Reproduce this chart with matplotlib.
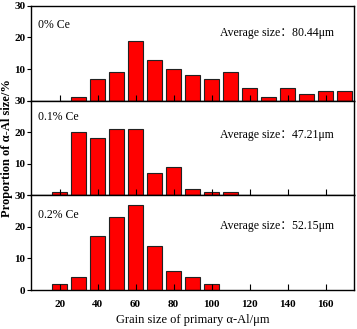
import numpy as np
import matplotlib
matplotlib.use("Agg")
from matplotlib import pyplot as plt

plt.rcParams['font.family'] = ['Liberation Serif', 'Noto Sans CJK SC']

sizes = [20, 30, 40, 50, 60, 70, 80, 90, 100, 110, 120, 130, 140, 150, 160, 170]
ce0 = [0, 1, 7, 9, 19, 13, 10, 8, 7, 9, 4, 1, 4, 2, 3, 3]
ce01 = [1, 20, 18, 21, 21, 7, 9, 2, 1, 1, 0, 0, 0, 0, 0, 0]
ce02 = [2, 4, 17, 23, 27, 14, 6, 4, 2, 0, 0, 0, 0, 0, 0, 0]
labels = ["0% Ce", "0.1% Ce", "0.2% Ce"]
averages = ["Average size\uff1a80.44\u03bcm", "Average size\uff1a47.21\u03bcm",
            "Average size\uff1a52.15\u03bcm"]
xticks = [20, 40, 60, 80, 100, 120, 140, 160]
yticks = [0, 10, 20, 30]

fig, axes = plt.subplots(3, 1, figsize=(3.57, 3.29), dpi=100, sharex=True)
fig.subplots_adjust(left=0.087, right=0.992, top=0.982, bottom=0.1185, hspace=0)

series = [ce0, ce01, ce02]
label_y = [0.80, 0.83, 0.79]
avg_y = [0.716, 0.64, 0.68]
for i, ax in enumerate(axes):
    vals = np.array(series[i])
    mask = vals > 0
    ax.bar(np.array(sizes)[mask], vals[mask], width=8, color='#ff0000',
           edgecolor='#222222', linewidth=0.8, zorder=1)
    ax.set_xlim(5, 175)
    ax.set_ylim(0, 30)
    ax.set_yticks(yticks)
    if i < 2:
        ax.set_yticklabels(["", "10", "20", "30"])
    ax.set_xticks(xticks)
    ax.tick_params(axis='x', direction='in', length=4, width=0.8, labelsize=8, pad=7)
    ax.tick_params(axis='y', direction='out', length=3, width=0.8, labelsize=8, pad=1)
    for lab in ax.get_xticklabels() + ax.get_yticklabels():
        lab.set_fontweight('bold')
    for sp in ax.spines.values():
        sp.set_linewidth(1.0)
        sp.set_zorder(3)
    ax.text(0.022, label_y[i], labels[i], transform=ax.transAxes, fontsize=8.5,
            ha='left', va='center')
    ax.text(0.585, avg_y[i], averages[i], transform=ax.transAxes, fontsize=8.5,
            ha='left', va='center')

axes[2].set_xlabel("Grain size of primary \u03b1-Al/\u03bcm", fontsize=9, labelpad=4)
fig.text(0.02, 0.55, "Proportion of \u03b1-Al size/%", rotation=90, fontsize=9,
         fontweight='bold', ha='center', va='center')

fig.savefig("out.png", dpi=100)
